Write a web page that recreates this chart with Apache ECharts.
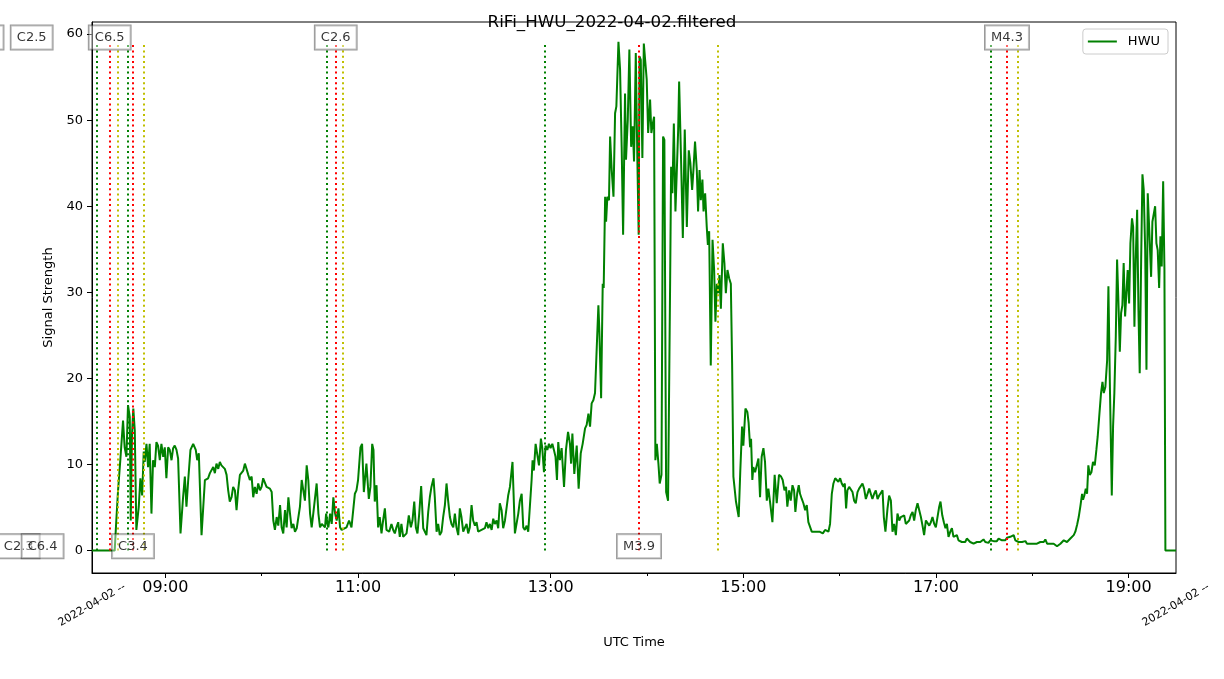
<!DOCTYPE html>
<html><head><meta charset="utf-8">
<script src="https://cdn.jsdelivr.net/npm/echarts@6/dist/echarts.min.js"></script>
<style>html,body{margin:0;padding:0;background:#fff}#chart{width:1224px;height:679px}</style>
</head><body><div id="chart"></div>
<script>
// ---------- data ----------
const titleText = 'RiFi_HWU_2022-04-02.filtered';
const seriesName = 'HWU';
const dayStart = '08:00';            // minutes below are counted from this time (UTC)
const axisStart = '08:14:16';
const axisEnd = '19:29:30';
const majorTicks = ['09:00', '11:00', '13:00', '15:00', '17:00', '19:00'];
const minorTicks = ['10:00', '12:00', '14:00', '16:00', '18:00'];
const yTicks = [0, 10, 20, 30, 40, 50, 60];
const dateLabel = '2022-04-02 --';

// sample times, minutes after 08:00 UTC
const minutes = [
  14.3, 28.4, 29.4, 30.5, 31.9, 33.6, 34.6, 35.7, 36.7, 37.8,
  38.4, 39.2, 40.0, 40.9, 41.9, 43.4, 44.4, 45.5, 46.5, 47.1,
  48.2, 49.2, 50.2, 51.3, 52.3, 53.4, 54.4, 55.4, 56.5, 57.5,
  58.6, 59.6, 60.6, 61.7, 62.7, 63.8, 64.8, 65.8, 66.9, 67.9,
  69.4, 71.0, 72.1, 73.1, 74.2, 75.6, 77.3, 78.9, 79.8, 80.8,
  82.5, 84.6, 85.6, 86.6, 87.7, 88.7, 89.8, 90.8, 91.8, 92.9,
  93.9, 94.9, 96.0, 97.0, 98.1, 99.1, 100.1, 101.2, 102.2, 103.3,
  104.3, 105.3, 106.4, 107.4, 108.5, 109.5, 110.5, 111.6, 112.6, 113.7,
  114.7, 115.7, 116.8, 117.8, 118.9, 119.9, 120.9, 122.0, 123.0, 124.1,
  125.1, 126.2, 127.2, 128.2, 129.3, 130.3, 131.4, 132.4, 133.4, 134.5,
  135.5, 136.6, 137.6, 138.6, 139.7, 140.7, 141.8, 142.8, 143.8, 144.9,
  145.9, 146.9, 148.0, 149.0, 150.1, 151.1, 152.1, 154.2, 155.3, 156.3,
  157.4, 158.4, 159.4, 160.1, 160.9, 161.5, 162.6, 163.6, 164.6, 165.7,
  166.7, 167.8, 168.8, 169.8,
  170.7, 172.8, 174.4, 175.9, 178.0, 179.0, 180.0, 181.5, 182.5, 183.6,
  185.2, 186.7, 187.7, 188.8, 189.6, 190.4, 191.5, 192.5, 193.5, 194.6,
  195.6, 196.7, 197.7, 199.4, 200.8, 201.9, 202.9, 203.9, 205.0, 206.0,
  207.0, 208.1, 209.1, 210.2, 211.6, 212.9, 213.9, 215.0, 216.0, 217.0,
  218.1, 219.3, 220.6, 221.6, 222.6, 223.7, 224.7, 225.7, 227.0, 227.8,
  228.9, 229.9, 230.9, 232.0, 233.0, 234.1, 235.1, 236.1, 237.2, 238.2,
  239.3, 240.3, 241.3, 242.4, 243.4, 244.4, 245.5, 246.5, 247.6, 248.6,
  249.6, 250.7, 251.7, 252.8, 253.8, 254.8, 255.9, 256.9, 258.0, 259.0,
  260.0, 261.1, 262.1, 263.2, 264.2, 265.2, 266.3, 267.3, 268.3, 269.4,
  270.4, 271.5, 272.5, 273.5, 274.6, 276.2, 277.7, 278.7, 279.8, 280.8,
  281.9, 282.9, 283.9, 285.0, 286.0, 287.0, 288.1, 288.7, 289.5, 290.6,
  291.6, 292.7, 293.9, 294.7, 295.8, 296.8, 297.9, 298.9, 299.9, 301.0,
  302.0, 303.0, 303.9, 304.7, 305.7,
  306.8, 308.3, 309.5, 310.8, 312.0, 312.7, 313.5, 314.7, 316.2, 317.4,
  318.7, 319.9, 321.4, 322.4, 323.5, 324.5, 325.5, 326.6, 327.6, 328.7,
  329.7, 330.3, 331.4, 332.4, 333.0, 333.9, 334.5, 335.3, 336.3, 337.0,
  338.0, 339.1, 340.1, 340.9, 342.2, 343.2, 344.2, 345.1, 346.3, 346.9,
  348.0, 349.0, 350.1, 351.1, 351.9, 353.0, 354.0, 354.8, 355.3, 356.1,
  357.1, 358.0, 359.0, 359.8, 360.7, 361.9, 362.7, 363.6, 364.4, 365.2,
  366.1, 367.1, 367.9, 369.0, 370.0, 370.8, 371.9, 373.1, 374.4, 375.0,
  375.8, 376.7, 377.7, 378.5, 379.4, 380.0, 381.2, 382.3, 383.5, 384.8,
  386.0, 387.0, 388.1, 388.9, 389.9, 391.0, 391.8, 392.7, 393.5, 394.5,
  395.2, 396.2, 397.2, 397.9, 398.7, 399.7, 400.8, 401.8, 402.6, 403.5,
  404.3, 405.1, 406.0, 407.2, 408.2, 409.1, 410.1, 411.2, 412.2, 413.0,
  413.8, 414.6, 415.4, 417.1, 418.1, 419.2, 420.0, 421.3, 422.5, 423.3,
  424.2, 424.8, 425.6, 426.2, 427.3, 428.3, 429.4, 430.4, 431.4, 432.5,
  433.5, 434.6, 435.6, 436.6, 438.1, 439.5, 440.8, 442.2, 443.5, 444.5,
  445.6, 446.6, 447.4, 448.5, 449.5, 450.6, 451.6, 452.4, 453.5, 454.5,
  455.3, 456.4, 457.4, 458.5, 459.5, 460.5, 461.6, 462.6, 464.1, 465.7,
  467.4, 468.2, 469.5, 470.9, 472.0, 473.0, 474.0, 475.1, 476.1, 477.2,
  478.2, 479.2, 480.3, 481.3, 482.4, 483.2, 484.0, 484.8, 485.9, 486.9,
  488.0, 489.0, 490.0, 491.1, 492.1, 493.2, 494.2, 495.2, 496.3, 497.3,
  498.4, 499.4, 500.4, 501.5, 502.5, 503.6, 504.6, 505.6, 506.7, 507.5,
  508.5, 509.8, 510.8, 511.9, 512.9, 513.9, 515.0, 516.0, 517.1, 518.1,
  519.1, 520.2, 521.2, 522.3, 523.3, 524.3, 525.4, 526.4, 527.4, 528.5,
  529.5, 530.6, 531.6, 532.6, 533.7, 534.7, 535.8, 536.8, 537.8, 538.9,
  539.9, 541.0, 542.0, 542.8, 543.9, 544.9, 545.9, 546.8, 547.8, 548.9,
  549.9, 550.9, 552.0, 553.0, 554.0, 555.1, 556.1, 557.2, 558.2, 559.2,
  560.3, 561.3, 562.4, 563.4, 564.4, 565.5, 566.5, 567.6, 568.6, 569.6,
  570.7, 571.7, 572.7, 573.8, 574.8, 575.9, 576.9, 577.9, 579.0,
  580.1, 581.1, 582.1, 583.2, 584.2, 585.3, 586.3, 587.3, 588.4, 589.4,
  590.5, 591.5, 592.5, 593.6, 594.6, 595.7, 596.7, 597.7, 598.8, 599.8,
  600.8, 601.9, 602.9, 604.0, 605.0, 606.0, 607.1, 608.1, 609.2, 610.2,
  611.2, 612.3, 613.3, 614.4, 615.4, 616.4, 617.5, 618.5, 619.6, 620.6,
  621.6, 622.7, 623.7, 624.8, 625.8, 626.8, 627.9, 628.9, 629.9, 631.0,
  631.6, 632.4, 633.3, 634.1, 634.9, 635.8, 636.8, 637.8, 638.9, 639.9,
  640.7, 641.8, 642.8, 643.7, 644.5, 645.5, 646.6, 647.4, 648.4, 649.5,
  650.3, 651.1, 652.0, 652.8, 653.6, 654.5, 655.3, 656.1, 656.9, 657.8,
  658.6, 659.4, 660.3, 661.1, 662.1, 662.8, 663.6, 664.4, 665.3, 666.1,
  666.9, 667.8, 668.6, 669.4, 670.3, 671.1, 671.9, 673.0, 674.0, 674.8,
  675.7, 676.5, 677.3, 678.1, 679.0, 679.8, 680.6, 681.5, 682.3, 682.9, 689.5
];

// signal strength at those times
const signal = [
  0, 0, 3.5, 7.0, 10.5, 15.1, 12.0, 10.9, 16.9, 15.5,
  3.5, 13.6, 16.5, 14.0, 2.4, 5.1, 8.4, 6.4, 11.5, 10.3,
  12.4, 9.7, 12.4, 4.3, 10.5, 9.7, 12.6, 12.2, 10.5, 12.4,
  10.9, 12.0, 8.4, 12.0, 11.7, 10.5, 11.9, 12.2, 11.7, 10.7,
  2.0, 6.2, 8.6, 5.1, 8.2, 11.7, 12.4, 11.7, 10.5, 11.3,
  1.8, 8.2, 8.4, 8.4, 9.0, 8.8, 9.7, 9.0, 10.1, 9.5,
  10.3, 9.9, 10.1, 9.5, 8.8, 7.0, 5.7, 6.2, 7.4, 7.0,
  4.7, 7.0, 8.8, 9.0, 9.3, 10.1, 9.5, 8.8, 8.2, 8.6,
  6.2, 7.4, 6.6, 7.8, 7.0, 7.4, 8.4, 8.2, 7.4, 7.4,
  7.2, 6.8, 3.5, 2.4, 3.9, 2.9, 5.3, 2.7, 2.0, 4.7,
  2.7, 6.2, 4.3, 2.6, 3.1, 2.2, 2.6, 2.4, 5.1, 8.2,
  7.0, 5.8, 9.9, 8.2, 4.3, 2.7, 4.3, 7.8, 4.3, 2.7,
  3.1, 2.9, 2.7, 4.3, 3.1, 2.7, 4.3, 3.1, 6.2, 4.3,
  3.5, 4.9, 2.7, 2.4,
  2.4, 2.7, 3.5, 2.7, 6.6, 7.0, 8.2, 12.0, 12.4, 6.8,
  10.1, 6.0, 7.4, 12.4, 11.7, 5.7, 7.6, 2.7, 3.9, 2.0,
  3.5, 4.9, 2.4, 2.2, 3.1, 2.4, 2.0, 2.7, 3.3, 1.6,
  3.1, 1.6, 1.8, 2.0, 4.1, 2.7, 3.5, 5.7, 2.7, 2.0,
  4.3, 7.5, 2.6, 2.4, 1.8, 4.5, 6.2, 7.4, 8.4, 6.2,
  2.2, 3.1, 1.8, 2.2, 3.9, 5.3, 7.8, 5.8, 3.9, 3.1,
  2.7, 4.3, 2.7, 1.8, 4.9, 3.9, 2.2, 2.2, 3.1, 2.0,
  2.7, 5.3, 3.5, 2.9, 3.3, 2.2, 2.4, 2.4, 2.6, 2.6,
  3.3, 2.6, 3.1, 2.4, 3.7, 3.1, 3.5, 2.6, 5.5, 4.7,
  2.6, 3.5, 3.3, 6.4, 7.4, 10.3, 2.0, 2.2, 4.3, 5.8,
  6.6, 2.7, 2.4, 2.9, 2.2, 2.0, 8.2, 10.5, 9.3, 12.4,
  12.2, 9.9, 13.0, 12.0, 9.1, 12.2, 11.7, 12.4, 11.9, 12.4,
  11.7, 10.9, 8.2, 12.6, 10.5,
  11.9, 7.4, 11.7, 13.8, 12.4, 10.1, 13.6, 8.9, 12.2, 7.2,
  11.3, 12.4, 14.2, 14.6, 15.9, 14.4, 17.1, 17.5, 18.3, 23.7,
  28.5, 25.6, 17.7, 31.0, 30.5, 41.1, 38.2, 41.1, 40.7, 48.1,
  44.2, 41.1, 50.8, 51.6, 59.1, 55.9, 46.9, 36.7, 53.1, 45.4,
  50.0, 58.2, 46.9, 49.3, 45.2, 57.8, 45.2, 36.7, 57.4, 57.0,
  45.6, 58.9, 59.1, 54.7, 48.5, 52.4, 48.5, 49.6, 50.4, 10.5,
  12.4, 10.1, 7.8, 8.8, 48.1, 47.7, 6.8, 5.8, 31.4, 44.6,
  41.5, 49.6, 39.4, 43.8, 48.9, 54.5, 45.4, 36.3, 48.9, 37.6,
  46.5, 45.0, 41.9, 44.2, 47.5, 44.2, 39.4, 44.2, 40.7, 43.1,
  39.4, 41.5, 37.6, 35.5, 37.1, 21.5, 36.1, 32.6, 26.6, 31.0,
  29.9, 32.0, 28.1, 35.7, 33.4, 29.9, 32.6, 31.6, 31.0, 21.7,
  8.6, 8.8, 5.7, 3.9, 9.3, 14.4, 12.2, 16.5, 16.1, 14.8,
  12.0, 13.0, 8.2, 9.7, 9.1, 9.0, 10.7, 6.2, 10.9, 11.9,
  10.3, 5.8, 7.2, 5.7, 3.3, 8.8, 5.5, 8.8, 8.6, 8.2,
  7.0, 7.4, 5.1, 7.0, 5.8, 7.6, 7.0, 4.5, 6.6, 7.6,
  6.6, 6.0, 5.5, 4.7, 5.3, 3.3, 3.1, 2.2, 2.2, 2.2,
  2.2, 2.4, 2.0, 2.4, 2.2, 2.2, 3.1, 6.6, 7.8, 8.4,
  8.2, 8.0, 8.4, 7.8, 7.4, 7.8, 4.9, 7.0, 7.4, 7.6,
  6.8, 5.8, 5.5, 6.8, 7.2, 7.4, 7.8, 7.2, 6.0, 6.2,
  7.2, 7.0, 6.0, 6.6, 7.0, 6.0, 6.4, 6.2, 7.0, 3.9,
  2.2, 4.9, 6.4, 5.8, 2.2, 3.1, 1.8, 4.3, 3.5, 3.9,
  3.9, 4.1, 3.1, 2.9, 3.5, 4.1, 4.5, 3.5, 4.7, 5.5,
  5.3, 3.9, 2.9, 1.8, 3.5, 3.7, 2.9, 3.3, 3.9, 3.1,
  2.7, 2.7, 5.1, 5.7, 4.1, 3.3, 2.6, 3.1, 1.6, 2.2,
  2.6, 1.6, 1.6, 1.8, 1.2, 1.4, 1.0, 1.2, 1.0, 1.4,
  1.2, 1.0, 1.0, 0.8, 1.0, 1.0, 1.2, 1.0, 1.1, 1.3,
  1.0, 1.1, 0.9, 1.2, 1.0, 1.1, 0.9, 1.1, 1.4,
  1.4, 1.2, 1.4, 1.2, 1.5, 1.4, 1.6, 1.7, 1.8, 1.2,
  1.4, 1.0, 1.2, 1.0, 0.9, 1.1, 0.8, 0.8, 0.8, 0.8,
  0.8, 0.9, 0.8, 0.9, 1.0, 1.1, 1.0, 1.3, 0.8, 0.9,
  0.8, 0.6, 0.8, 0.6, 0.5, 0.6, 0.8, 1.0, 1.2, 1.1,
  1.0, 1.2, 1.4, 1.6, 1.8, 2.2, 3.0, 3.9, 5.1, 6.6,
  5.9, 6.4, 7.2, 6.6, 9.9, 8.8, 9.1, 10.3, 9.9, 11.7,
  13.2, 15.9, 18.3, 19.6, 18.3, 19.0, 22.1, 30.7, 18.3, 6.4,
  14.4, 18.3, 24.9, 33.8, 29.1, 23.1, 27.6, 28.5, 33.4, 27.2,
  29.9, 32.6, 28.7, 35.7, 38.6, 37.6, 26.0, 33.8, 39.6, 28.0,
  20.6, 33.8, 43.7, 41.9, 34.9, 21.0, 41.5, 36.5, 31.8, 38.2,
  38.4, 40.0, 35.7, 34.9, 30.5, 36.5, 33.0, 42.9, 32.6, 0, 0
];

// flares (minutes after 08:00 UTC); null = not drawn / unknown
const flareClass = ['C1.9', 'C2.3', 'C2.5', 'C6.4', 'C6.5', 'C3.4', 'C2.6', 'M3.9', 'M4.3'];
const flareStart = [null, null, null, null, 17.0, 36.7, 160.7, 296.4, 574.4];
const flarePeak  = [-53.9, -31.4, -23.3, -16.5, 25.3, 39.8, 166.1, 355.0, 584.2];
const flareEnd   = [null, null, null, null, 30.1, 46.5, 170.7, 404.3, 591.1];

// ---------- build ----------
const FONT = 'DejaVu Sans';
const hmToMin = s => { const p = s.split(':').map(Number); return p[0] * 60 + p[1] + (p[2] || 0) / 60; };
const BASE = hmToMin(dayStart);
const rel = s => hmToMin(s) - BASE;              // minutes after 08:00
const fmtHM = m => {
  const t = Math.round(m + BASE);
  return String(Math.floor(t / 60)).padStart(2, '0') + ':' + String(t % 60).padStart(2, '0');
};

const xMin = rel(axisStart), xMax = rel(axisEnd);
const majorX = majorTicks.map(rel);
const minorX = minorTicks.map(rel);
const lineData = minutes.map((m, i) => [m, signal[i]]);
const vTop = Math.max.apply(null, signal);

const vColors = { start: '#008000', peak: '#ff0000', end: '#bfbf00' };
const markLineData = [];
flareClass.forEach((c, i) => {
  [['start', flareStart[i]], ['peak', flarePeak[i]], ['end', flareEnd[i]]].forEach(([k, m]) => {
    if (m == null || m < xMin || m > xMax) return;
    markLineData.push([{ coord: [m, 0], lineStyle: { color: vColors[k] } }, { coord: [m, vTop] }]);
  });
});
const labelTopY = 59.6, labelBottomY = 0.5;
const labelData = flareClass.map((c, i) => ({ name: c, value: [flarePeak[i], i % 2 === 0 ? labelTopY : labelBottomY] }));

const chart = echarts.init(document.getElementById('chart'), null, { renderer: 'canvas' });
chart.setOption({
  animation: false,
  backgroundColor: '#ffffff',
  textStyle: { fontFamily: FONT },
  title: { text: titleText, left: 'center', top: 9, textStyle: { fontSize: 16.7, fontWeight: 'normal', color: '#000', fontFamily: FONT } },
  legend: {
    data: [seriesName], right: 56, top: 29, padding: [5, 8, 5, 5],
    borderColor: '#cccccc', borderWidth: 1, borderRadius: 3, backgroundColor: 'rgba(255,255,255,0.8)',
    icon: 'rect', itemWidth: 29, itemHeight: 2,
    textStyle: { fontSize: 13, color: '#000', fontFamily: FONT, padding: [0, 0, 0, 6], lineHeight: 15 }
  },
  grid: { left: 92, right: 48, top: 22, bottom: 106, show: true, borderColor: '#000', borderWidth: 1, backgroundColor: 'transparent', outerBoundsMode: 'none', containLabel: false },
  xAxis: [
    {
      type: 'value', min: xMin, max: xMax, position: 'bottom',
      axisLine: { show: true, onZero: false, lineStyle: { color: '#000', width: 1 } },
      axisTick: { show: true, customValues: majorX, length: 5, lineStyle: { color: '#000', width: 1 } },
      axisLabel: { customValues: majorX, formatter: v => fmtHM(v), fontSize: 16, color: '#000', fontFamily: FONT, margin: 7 },
      splitLine: { show: false },
      name: 'UTC Time', nameLocation: 'middle', nameGap: 63,
      nameTextStyle: { fontSize: 13, color: '#000', fontFamily: FONT }
    },
    {
      type: 'value', min: xMin, max: xMax, position: 'bottom',
      axisLine: { show: false, onZero: false },
      axisTick: { show: true, customValues: minorX, length: 3, lineStyle: { color: '#000', width: 1 } },
      axisLabel: {
        customValues: [xMin + 0.01, xMax - 0.01], formatter: () => dateLabel,
        rotate: 30, align: 'center', verticalAlign: 'middle', margin: 32,
        fontSize: 11, color: '#000', fontFamily: FONT, hideOverlap: false
      },
      splitLine: { show: false }
    }
  ],
  yAxis: {
    type: 'value', min: -2.6, max: 61.4,
    axisLine: { show: true, onZero: false, lineStyle: { color: '#000', width: 1 } },
    axisTick: { show: true, customValues: yTicks, length: 5, lineStyle: { color: '#000' } },
    axisLabel: { customValues: yTicks, fontSize: 13, color: '#000', fontFamily: FONT, margin: 9 },
    splitLine: { show: false },
    name: 'Signal Strength', nameLocation: 'middle', nameGap: 30,
    nameTextStyle: { fontSize: 13, color: '#000', fontFamily: FONT }
  },
  series: [
    {
      type: 'line', name: seriesName, data: lineData, xAxisIndex: 0,
      showSymbol: false, symbol: 'none', clip: true, z: 2,
      lineStyle: { color: '#008000', width: 2 }, itemStyle: { color: '#008000' },
      markLine: {
        silent: true, symbol: ['none', 'none'], label: { show: false }, animation: false,
        lineStyle: { type: [2, 3.3], width: 2 },
        data: markLineData
      }
    },
    {
      type: 'scatter', name: 'flares', data: labelData, xAxisIndex: 0,
      symbolSize: 1, itemStyle: { color: 'rgba(0,0,0,0)' }, clip: false, z: 10, silent: true,
      label: {
        show: true, position: 'inside', formatter: '{b}', color: '#000', fontSize: 13, fontFamily: FONT,
        backgroundColor: 'rgba(255,255,255,0.5)', borderColor: 'rgba(0,0,0,0.5)', borderWidth: 1,
        padding: [5, 6, 4, 6], lineHeight: 15
      },
      labelLayout: { hideOverlap: false }
    }
  ]
});
</script>
</body></html>
